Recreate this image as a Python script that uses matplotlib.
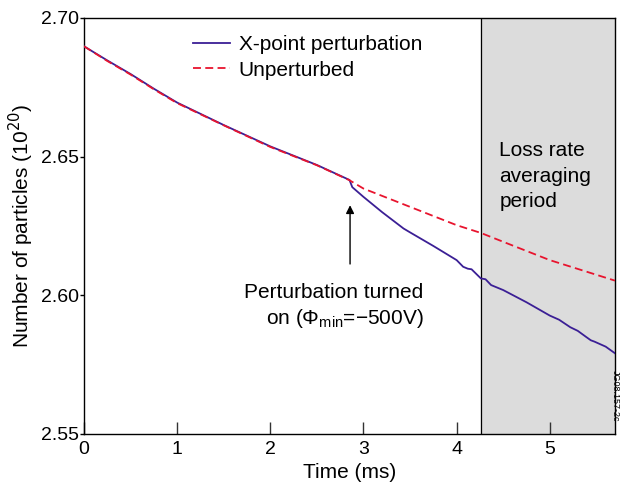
import matplotlib
matplotlib.use("Agg")
import matplotlib.pyplot as plt

plt.rcParams['font.family'] = ['Liberation Sans', 'DejaVu Sans']

# values
t_unpert = [0.0, 0.25, 0.5, 0.75, 1.0, 1.5, 2.0, 2.5, 2.85, 3.0, 3.5, 4.0, 4.26, 4.5, 5.0, 5.7]
n_unpert = [2.6898, 2.6845, 2.6796, 2.6743, 2.6693, 2.6613, 2.6535, 2.6469, 2.6415,
            2.6385, 2.6319, 2.6253, 2.6225, 2.6193, 2.6127, 2.6053]

t_pert = [0.0, 0.25, 0.5, 0.75, 1.0, 1.5, 2.0, 2.5, 2.85, 2.88, 3.0, 3.2, 3.43, 3.5, 3.75,
          4.0, 4.07, 4.12, 4.16, 4.26, 4.31, 4.37, 4.5, 4.75, 5.0, 5.1, 5.22, 5.3, 5.39,
          5.44, 5.48, 5.6, 5.7]
n_pert = [2.6898, 2.6847, 2.6798, 2.6745, 2.6695, 2.6614, 2.6537, 2.6470, 2.6416, 2.6390,
          2.6355, 2.6300, 2.6241, 2.6227, 2.6178, 2.6127, 2.6103, 2.6096, 2.6094, 2.6061,
          2.6058, 2.6037, 2.6019, 2.5975, 2.5927, 2.5912, 2.5885, 2.5872, 2.5850, 2.5838,
          2.5833, 2.5815, 2.5791]

avg_start = 4.26
t_max = 5.7

fs = 15

fig = plt.figure(figsize=(6.2, 4.87), dpi=100)
ax = fig.add_axes([84/620, 1-434/487, (615-84)/620, (434-18)/487])

ax.axvspan(avg_start, t_max, color='#dcdcdc', zorder=0)
ax.axvline(avg_start, color='black', lw=0.9, zorder=1)

ax.plot(t_pert, n_pert, color='#3b1f95', lw=1.3, label='X-point perturbation', zorder=3)
ax.plot(t_unpert, n_unpert, color='#e8142e', lw=1.3, ls=(0, (4.4, 2.4)), label='Unperturbed', zorder=4)

ax.set_xlim(0, t_max)
ax.set_ylim(2.55, 2.70)
ax.set_xticks([0, 1, 2, 3, 4, 5])
ax.set_yticks([2.55, 2.60, 2.65, 2.70])
ax.set_yticklabels(['2.55', '2.60', '2.65', '2.70'])
ax.tick_params(axis='x', direction='in', length=8.5, width=1, labelsize=14, pad=5,
               color='#333333')
ax.tick_params(axis='y', direction='out', length=3, width=1, labelsize=14, pad=0.5)
for s in ax.spines.values():
    s.set_linewidth(1)

ax.set_xlabel('Time (ms)', fontsize=fs, labelpad=4)
ax.set_ylabel('Number of particles (10$^{20}$)', fontsize=fs, labelpad=4)

ax.legend(loc='upper left', bbox_to_anchor=(0.205, 0.958), frameon=False, fontsize=fs,
          handlelength=1.8, handletextpad=0.4, labelspacing=0.3, borderaxespad=0,
          borderpad=0)

ax.annotate('', xy=(2.856, 2.6335), xytext=(2.856, 2.6103),
            arrowprops=dict(arrowstyle='-|>', color='black', lw=1, mutation_scale=12))
ax.text(3.645, 2.6012, 'Perturbation turned', ha='right', va='center', fontsize=fs)
ax.text(3.645, 2.5918, 'on (Φ$_{\\mathregular{min}}$=\u2212500V)', ha='right', va='center', fontsize=fs)

ax.text(4.46, 2.6555, 'Loss rate\naveraging\nperiod', ha='left', va='top', fontsize=fs,
        linespacing=1.42)

fig.text(0.999, 0.24, 'JG08.157-2c', rotation=270, fontsize=6.5, ha='right', va='top')

fig.savefig('out.png', dpi=100)
